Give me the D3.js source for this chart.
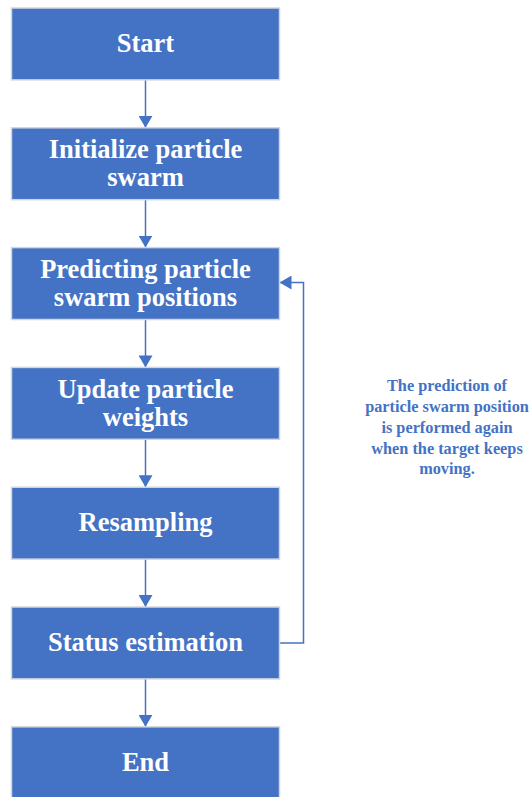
<!DOCTYPE html>
<html>
<head>
<meta charset="utf-8">
<script src="https://cdn.jsdelivr.net/npm/d3@7"></script>
<style>
  html, body { margin: 0; padding: 0; background: #ffffff; }
  svg { display: block; }
</style>
</head>
<body>
<div id="chart"></div>
<script>
// Etapes du diagramme (une ligne par rangée de texte)
const steps = ['start', 'init', 'predict', 'weights', 'resample', 'status', 'end'];
const stepLabels = [
    ['Start'],
    ['Initialize particle', 'swarm'],
    ['Predicting particle', 'swarm positions'],
    ['Update particle', 'weights'],
    ['Resampling'],
    ['Status estimation'],
    ['End']
];
// Boucle : de "status" vers "predict"
const loopFrom = 'status';
const loopTo   = 'predict';
const noteLines = [
    'The prediction of',
    'particle swarm position',
    'is performed again',
    'when the target keeps',
    'moving.'
];

const W = 531, H = 797;
const BLUE = '#4472C4';

const svg = d3.select('#chart').append('svg')
    .attr('width', W).attr('height', H)
    .attr('viewBox', `0 0 ${W} ${H}`);

const defs = svg.append('defs');
defs.append('marker')
    .attr('id', 'arrow')
    .attr('viewBox', '0 0 12 14')
    .attr('refX', 12).attr('refY', 7)
    .attr('markerWidth', 12).attr('markerHeight', 14)
    .attr('markerUnits', 'userSpaceOnUse')
    .attr('orient', 'auto')
    .append('path')
    .attr('d', 'M0,0 L12,7 L0,14 Z')
    .attr('fill', BLUE);

// Echelles : rangées verticales + colonne des boîtes
const y = d3.scaleBand().domain(steps).range([8, 798.7]).paddingInner(0.4).paddingOuter(0);
const x = d3.scaleLinear().domain([0, 1]).range([11.5, 279.5]);
const cx = x(0.5);
const lineH = 28;

// Flèches entre les boîtes
const links = d3.pairs(steps);
svg.append('g').selectAll('line')
    .data(links)
    .join('line')
    .attr('x1', cx).attr('x2', cx)
    .attr('y1', d => y(d[0]) + y.bandwidth())
    .attr('y2', d => y(d[1]))
    .attr('stroke', BLUE)
    .attr('stroke-width', 1.5)
    .attr('marker-end', 'url(#arrow)');

// Boucle de retour
const loopX = 303.5;
const yFrom = y(loopFrom) + y.bandwidth() / 2;
const yTo   = y(loopTo) + y.bandwidth() / 2 - 1;
svg.append('path')
    .attr('d', `M${x(1)},${yFrom} H${loopX} V${yTo} H${x(1)}`)
    .attr('fill', 'none')
    .attr('stroke', BLUE)
    .attr('stroke-width', 1.5)
    .attr('marker-end', 'url(#arrow)');

// Boîtes
const nodes = svg.append('g').selectAll('g')
    .data(steps.map((s, i) => ({ id: s, lines: stepLabels[i] })))
    .join('g');

nodes.append('rect')
    .attr('x', x(0)).attr('y', d => y(d.id))
    .attr('width', x(1) - x(0)).attr('height', y.bandwidth())
    .attr('fill', BLUE)
    .attr('stroke', '#d3d6dc')
    .attr('stroke-width', 1.5);

nodes.append('text')
    .attr('text-anchor', 'middle')
    .attr('font-family', '"Liberation Serif", "Times New Roman", serif')
    .attr('font-weight', 'bold')
    .attr('font-size', '26.5px')
    .attr('fill', '#ffffff')
    .selectAll('tspan')
    .data(d => d.lines.map((t, i) => ({ t, i, n: d.lines.length, id: d.id })))
    .join('tspan')
    .attr('x', cx)
    .attr('y', d => y(d.id) + y.bandwidth() / 2 + (d.i - (d.n - 1) / 2) * lineH - 1)
    .attr('dy', '0.35em')
    .text(d => d.t);

// Note à droite
svg.append('text')
    .attr('text-anchor', 'middle')
    .attr('font-family', '"Liberation Serif", "Times New Roman", serif')
    .attr('font-weight', 'bold')
    .attr('font-size', '16.3px')
    .attr('fill', BLUE)
    .selectAll('tspan')
    .data(noteLines)
    .join('tspan')
    .attr('x', 447)
    .attr('y', (d, i) => 386 + i * 20.8 - 0.5)
    .attr('dy', '0.35em')
    .text(d => d);
</script>
</body>
</html>
